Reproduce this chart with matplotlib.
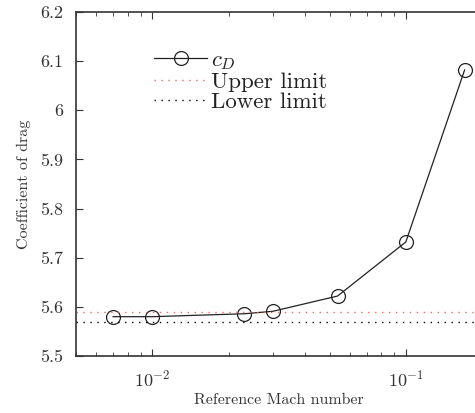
import matplotlib
matplotlib.use("Agg")
import matplotlib.pyplot as plt
from matplotlib.ticker import FixedLocator, FixedFormatter, LogLocator, NullFormatter

plt.rcParams['font.family'] = 'serif'
plt.rcParams['font.serif'] = ['cmr10', 'DejaVu Serif']
plt.rcParams['mathtext.fontset'] = 'cm'
plt.rcParams['axes.formatter.use_mathtext'] = True

# data
mach = [0.0070, 0.0100, 0.0231, 0.0299, 0.0538, 0.100, 0.1706]
cd = [5.580, 5.580, 5.586, 5.591, 5.622, 5.732, 6.082]
upper_limit = 5.589
lower_limit = 5.569
y_ticks = [5.5, 5.6, 5.7, 5.8, 5.9, 6.0, 6.1, 6.2]
y_labels = ["5.5", "5.6", "5.7", "5.8", "5.9", "6", "6.1", "6.2"]

fig = plt.figure(figsize=(4.75, 4.13), dpi=100)
ax = fig.add_axes([0.16, 0.138, 0.855, 0.833])

ax.plot(mach, cd, color='#222222', lw=0.9, marker='o', ms=10,
        mfc='none', mec='#222222', mew=0.9, label=r'$c_D$')
ax.axhline(upper_limit, color='#ff6060', lw=1.0, ls=(0, (1, 4)), label='Upper limit')
ax.axhline(lower_limit, color='black', lw=1.0, ls=(0, (1, 4)), label='Lower limit')

ax.set_xscale('log')
ax.set_xlim(0.005, 0.2)
ax.set_ylim(5.5, 6.2)
ax.yaxis.set_major_locator(FixedLocator(y_ticks))
ax.yaxis.set_major_formatter(FixedFormatter(y_labels))
ax.xaxis.set_minor_locator(LogLocator(base=10, subs=range(2, 10)))
ax.xaxis.set_minor_formatter(NullFormatter())

ax.tick_params(which='both', direction='in', top=True, right=True, labelsize=13, colors='#333333')
ax.tick_params(which='major', length=5, pad=9)
ax.tick_params(which='minor', length=3)
for s in ax.spines.values():
    s.set_linewidth(1.2)
    s.set_color('#333333')

ax.set_xlabel('Reference Mach number', fontsize=11.5, color='#333333', labelpad=3)
ax.set_ylabel('Coefficient of drag', fontsize=11.5, color='#333333', labelpad=7)

leg = ax.legend(loc='upper left', bbox_to_anchor=(0.17, 0.915), frameon=False,
                fontsize=16.5, handlelength=2.3, handletextpad=0.2,
                labelspacing=0.0, borderaxespad=0)
for t in leg.get_texts():
    t.set_color('#222222')

fig.savefig('out.png', dpi=100)
